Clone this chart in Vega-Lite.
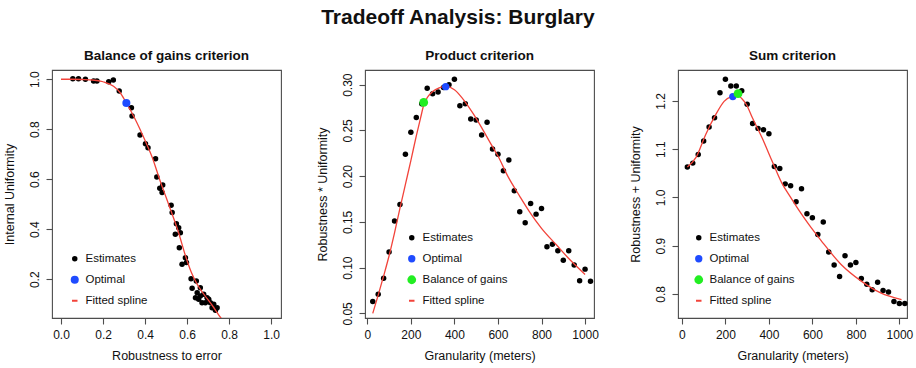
{
  "$schema": "https://vega.github.io/schema/vega-lite/v6.json",
  "padding": {"left": 2, "top": 6, "right": 5, "bottom": 5},
  "title": {"text": "Tradeoff Analysis: Burglary", "fontSize": 21, "fontWeight": "bold", "anchor": "middle", "frame": "bounds", "offset": 20, "color": "#111111"},
  "bounds": "flush",
  "spacing": 84,
  "resolve": {
    "scale": {"color": "independent", "shape": "independent", "size": "independent"},
    "legend": {"color": "independent", "shape": "independent", "size": "independent"}
  },
  "config": {
    "font": "Liberation Sans",
    "view": {"stroke": "#4d4d4d", "strokeWidth": 1.1},
    "axis": {"domain": false, "grid": false, "ticks": true, "tickSize": 6, "tickColor": "#4d4d4d", "tickWidth": 1.1, "labelFontSize": 12, "labelColor": "#111111", "titleFontSize": 12.5, "titleFontWeight": "normal", "titleColor": "#111111"},
    "axisX": {"labelPadding": 5, "titlePadding": 9},
    "axisY": {"labelAngle": 270, "labelAlign": "center", "labelBaseline": "bottom", "labelPadding": 5, "titlePadding": 12},
    "legend": {"orient": "bottom-left", "labelFontSize": 11.5, "labelColor": "#111111", "rowPadding": 8, "symbolStrokeWidth": 0, "padding": 0},
    "title": {"fontSize": 13.5, "fontWeight": "bold", "color": "#111111", "offset": 8},
    "point": {"filled": true, "opacity": 1}
  },
  "hconcat": [
    {
      "width": 229,
      "height": 248,
      "title": "Balance of gains criterion",
      "layer": [
        {
          "data": {"values": [
            {"x": 0.056, "y": 1.002, "series": "Estimates"}, {"x": 0.083, "y": 1.002, "series": "Estimates"},
            {"x": 0.116, "y": 1.0, "series": "Estimates"}, {"x": 0.155, "y": 0.993, "series": "Estimates"},
            {"x": 0.171, "y": 0.993, "series": "Estimates"}, {"x": 0.227, "y": 0.99, "series": "Estimates"},
            {"x": 0.249, "y": 0.997, "series": "Estimates"}, {"x": 0.277, "y": 0.953, "series": "Estimates"},
            {"x": 0.335, "y": 0.886, "series": "Estimates"}, {"x": 0.338, "y": 0.853, "series": "Estimates"},
            {"x": 0.376, "y": 0.777, "series": "Estimates"}, {"x": 0.402, "y": 0.742, "series": "Estimates"},
            {"x": 0.414, "y": 0.726, "series": "Estimates"}, {"x": 0.45, "y": 0.682, "series": "Estimates"},
            {"x": 0.456, "y": 0.609, "series": "Estimates"}, {"x": 0.47, "y": 0.564, "series": "Estimates"},
            {"x": 0.484, "y": 0.577, "series": "Estimates"}, {"x": 0.481, "y": 0.547, "series": "Estimates"},
            {"x": 0.524, "y": 0.496, "series": "Estimates"}, {"x": 0.529, "y": 0.467, "series": "Estimates"},
            {"x": 0.549, "y": 0.422, "series": "Estimates"}, {"x": 0.56, "y": 0.406, "series": "Estimates"},
            {"x": 0.568, "y": 0.386, "series": "Estimates"}, {"x": 0.544, "y": 0.38, "series": "Estimates"},
            {"x": 0.563, "y": 0.326, "series": "Estimates"}, {"x": 0.592, "y": 0.286, "series": "Estimates"},
            {"x": 0.597, "y": 0.267, "series": "Estimates"}, {"x": 0.576, "y": 0.26, "series": "Estimates"},
            {"x": 0.619, "y": 0.202, "series": "Estimates"}, {"x": 0.644, "y": 0.193, "series": "Estimates"},
            {"x": 0.624, "y": 0.164, "series": "Estimates"}, {"x": 0.663, "y": 0.166, "series": "Estimates"},
            {"x": 0.648, "y": 0.146, "series": "Estimates"}, {"x": 0.663, "y": 0.133, "series": "Estimates"},
            {"x": 0.679, "y": 0.14, "series": "Estimates"}, {"x": 0.695, "y": 0.126, "series": "Estimates"},
            {"x": 0.703, "y": 0.12, "series": "Estimates"}, {"x": 0.687, "y": 0.106, "series": "Estimates"},
            {"x": 0.711, "y": 0.106, "series": "Estimates"}, {"x": 0.727, "y": 0.1, "series": "Estimates"},
            {"x": 0.743, "y": 0.086, "series": "Estimates"}, {"x": 0.671, "y": 0.106, "series": "Estimates"},
            {"x": 0.719, "y": 0.086, "series": "Estimates"}, {"x": 0.735, "y": 0.076, "series": "Estimates"},
            {"x": 0.655, "y": 0.12, "series": "Estimates"}, {"x": 0.64, "y": 0.126, "series": "Estimates"}
          ]},
          "mark": {"type": "point", "filled": true, "opacity": 1},
          "encoding": {
            "x": {"field": "x", "type": "quantitative", "title": "Robustness to error", "scale": {"domain": [-0.043, 1.047], "nice": false, "zero": false}, "axis": {"values": [0, 0.2, 0.4, 0.6, 0.8, 1.0], "format": ".1f"}},
            "y": {"field": "y", "type": "quantitative", "title": "Internal Uniformity", "scale": {"domain": [0.045, 1.037], "nice": false, "zero": false}, "axis": {"values": [0.2, 0.4, 0.6, 0.8, 1.0], "format": ".1f"}},
            "color": {"field": "series", "type": "nominal", "scale": {"domain": ["Estimates", "Optimal", "Fitted spline"], "range": ["#000000", "#1f4bff", "#f2433a"]}, "legend": {"title": null, "offset": 11, "symbolOffset": 6, "labelOffset": 5}},
            "shape": {"field": "series", "type": "nominal", "scale": {"domain": ["Estimates", "Optimal", "Fitted spline"], "range": ["circle", "circle", "M-0.55,-0.2H0.55V0.2H-0.55Z"]}, "legend": {"title": null, "offset": 11, "symbolOffset": 6, "labelOffset": 5}},
            "size": {"field": "series", "type": "nominal", "scale": {"domain": ["Estimates", "Optimal", "Fitted spline"], "range": [30, 100, 9]}, "legend": {"title": null, "offset": 11, "symbolOffset": 6, "labelOffset": 5}}
          }
        },
        {
          "data": {"values": [
            {"x": 0.0, "y": 1.0}, {"x": 0.05, "y": 1.0}, {"x": 0.1, "y": 0.999}, {"x": 0.15, "y": 0.997},
            {"x": 0.2, "y": 0.99}, {"x": 0.25, "y": 0.972}, {"x": 0.28, "y": 0.948}, {"x": 0.311, "y": 0.905},
            {"x": 0.35, "y": 0.845}, {"x": 0.4, "y": 0.755}, {"x": 0.433, "y": 0.69}, {"x": 0.473, "y": 0.59},
            {"x": 0.5, "y": 0.528}, {"x": 0.524, "y": 0.472}, {"x": 0.56, "y": 0.385}, {"x": 0.59, "y": 0.3},
            {"x": 0.62, "y": 0.228}, {"x": 0.648, "y": 0.18}, {"x": 0.68, "y": 0.14}, {"x": 0.72, "y": 0.095},
            {"x": 0.76, "y": 0.046}, {"x": 0.785, "y": 0.02}
          ]},
          "mark": {"type": "line", "color": "#f2433a", "strokeWidth": 1.3, "clip": true, "interpolate": "monotone"},
          "encoding": {
            "x": {"field": "x", "type": "quantitative"},
            "y": {"field": "y", "type": "quantitative"}
          }
        },
        {
          "data": {"values": [{"x": 0.311, "y": 0.905, "series": "Optimal"}]},
          "mark": {"type": "point", "filled": true, "opacity": 1},
          "encoding": {
            "x": {"field": "x", "type": "quantitative"},
            "y": {"field": "y", "type": "quantitative"},
            "color": {"field": "series", "type": "nominal"},
            "shape": {"field": "series", "type": "nominal"},
            "size": {"field": "series", "type": "nominal"}
          }
        }
      ]
    },
    {
      "width": 229,
      "height": 248,
      "title": "Product criterion",
      "layer": [
        {
          "data": {"values": [
            {"x": 25, "y": 0.063, "series": "Estimates"}, {"x": 50, "y": 0.071, "series": "Estimates"},
            {"x": 75, "y": 0.0885, "series": "Estimates"}, {"x": 100, "y": 0.117, "series": "Estimates"},
            {"x": 125, "y": 0.151, "series": "Estimates"}, {"x": 150, "y": 0.169, "series": "Estimates"},
            {"x": 175, "y": 0.224, "series": "Estimates"}, {"x": 200, "y": 0.248, "series": "Estimates"},
            {"x": 225, "y": 0.264, "series": "Estimates"}, {"x": 250, "y": 0.279, "series": "Estimates"},
            {"x": 275, "y": 0.296, "series": "Estimates"}, {"x": 300, "y": 0.29, "series": "Estimates"},
            {"x": 325, "y": 0.292, "series": "Estimates"}, {"x": 350, "y": 0.297, "series": "Estimates"},
            {"x": 375, "y": 0.3, "series": "Estimates"}, {"x": 400, "y": 0.306, "series": "Estimates"},
            {"x": 425, "y": 0.277, "series": "Estimates"}, {"x": 450, "y": 0.279, "series": "Estimates"},
            {"x": 475, "y": 0.2625, "series": "Estimates"}, {"x": 500, "y": 0.2614, "series": "Estimates"},
            {"x": 525, "y": 0.245, "series": "Estimates"}, {"x": 550, "y": 0.259, "series": "Estimates"},
            {"x": 575, "y": 0.2296, "series": "Estimates"}, {"x": 600, "y": 0.224, "series": "Estimates"},
            {"x": 625, "y": 0.206, "series": "Estimates"}, {"x": 650, "y": 0.2176, "series": "Estimates"},
            {"x": 675, "y": 0.184, "series": "Estimates"}, {"x": 700, "y": 0.161, "series": "Estimates"},
            {"x": 725, "y": 0.149, "series": "Estimates"}, {"x": 750, "y": 0.17, "series": "Estimates"},
            {"x": 775, "y": 0.1585, "series": "Estimates"}, {"x": 800, "y": 0.1647, "series": "Estimates"},
            {"x": 825, "y": 0.1228, "series": "Estimates"}, {"x": 850, "y": 0.1257, "series": "Estimates"},
            {"x": 875, "y": 0.1184, "series": "Estimates"}, {"x": 900, "y": 0.108, "series": "Estimates"},
            {"x": 925, "y": 0.1184, "series": "Estimates"}, {"x": 950, "y": 0.103, "series": "Estimates"},
            {"x": 975, "y": 0.0856, "series": "Estimates"}, {"x": 1000, "y": 0.0984, "series": "Estimates"},
            {"x": 1025, "y": 0.0852, "series": "Estimates"}
          ]},
          "mark": {"type": "point", "filled": true, "opacity": 1},
          "encoding": {
            "x": {"field": "x", "type": "quantitative", "title": "Granularity (meters)", "scale": {"domain": [-10.6, 1041], "nice": false, "zero": false}, "axis": {"values": [0, 200, 400, 600, 800, 1000], "format": "d"}},
            "y": {"field": "y", "type": "quantitative", "title": "Robustness * Uniformity", "scale": {"domain": [0.045, 0.316], "nice": false, "zero": false}, "axis": {"values": [0.05, 0.1, 0.15, 0.2, 0.25, 0.3], "format": ".2f"}},
            "color": {"field": "series", "type": "nominal", "scale": {"domain": ["Estimates", "Optimal", "Balance of gains", "Fitted spline"], "range": ["#000000", "#1f4bff", "#22ee22", "#f2433a"]}, "legend": {"title": null, "offset": 11, "symbolOffset": 30, "labelOffset": 5}},
            "shape": {"field": "series", "type": "nominal", "scale": {"domain": ["Estimates", "Optimal", "Balance of gains", "Fitted spline"], "range": ["circle", "circle", "circle", "M-0.55,-0.2H0.55V0.2H-0.55Z"]}, "legend": {"title": null, "offset": 11, "symbolOffset": 30, "labelOffset": 5}},
            "size": {"field": "series", "type": "nominal", "scale": {"domain": ["Estimates", "Optimal", "Balance of gains", "Fitted spline"], "range": [30, 100, 100, 9]}, "legend": {"title": null, "offset": 11, "symbolOffset": 30, "labelOffset": 5}}
          }
        },
        {
          "data": {"values": [
            {"x": 25, "y": 0.05}, {"x": 50, "y": 0.07}, {"x": 75, "y": 0.091}, {"x": 100, "y": 0.113},
            {"x": 125, "y": 0.138}, {"x": 150, "y": 0.165}, {"x": 175, "y": 0.191}, {"x": 200, "y": 0.217},
            {"x": 225, "y": 0.244}, {"x": 245, "y": 0.264}, {"x": 260, "y": 0.2785}, {"x": 280, "y": 0.2875},
            {"x": 300, "y": 0.2925}, {"x": 330, "y": 0.2965}, {"x": 360, "y": 0.298}, {"x": 400, "y": 0.2945},
            {"x": 450, "y": 0.281}, {"x": 487, "y": 0.268}, {"x": 525, "y": 0.253}, {"x": 568, "y": 0.235},
            {"x": 600, "y": 0.222}, {"x": 645, "y": 0.2}, {"x": 700, "y": 0.178}, {"x": 745, "y": 0.161},
            {"x": 800, "y": 0.143}, {"x": 868, "y": 0.125}, {"x": 925, "y": 0.11}, {"x": 1000, "y": 0.0926}
          ]},
          "mark": {"type": "line", "color": "#f2433a", "strokeWidth": 1.3, "clip": true, "interpolate": "monotone"},
          "encoding": {
            "x": {"field": "x", "type": "quantitative"},
            "y": {"field": "y", "type": "quantitative"}
          }
        },
        {
          "data": {"values": [
            {"x": 259, "y": 0.2806, "series": "Balance of gains"},
            {"x": 360, "y": 0.2978, "series": "Optimal"}
          ]},
          "mark": {"type": "point", "filled": true, "opacity": 1},
          "encoding": {
            "x": {"field": "x", "type": "quantitative"},
            "y": {"field": "y", "type": "quantitative"},
            "color": {"field": "series", "type": "nominal"},
            "shape": {"field": "series", "type": "nominal"},
            "size": {"field": "series", "type": "nominal"}
          }
        }
      ]
    },
    {
      "width": 229,
      "height": 248,
      "title": "Sum criterion",
      "layer": [
        {
          "data": {"values": [
            {"x": 25, "y": 1.063, "series": "Estimates"}, {"x": 50, "y": 1.071, "series": "Estimates"},
            {"x": 75, "y": 1.089, "series": "Estimates"}, {"x": 100, "y": 1.117, "series": "Estimates"},
            {"x": 125, "y": 1.146, "series": "Estimates"}, {"x": 150, "y": 1.165, "series": "Estimates"},
            {"x": 175, "y": 1.217, "series": "Estimates"}, {"x": 200, "y": 1.245, "series": "Estimates"},
            {"x": 225, "y": 1.231, "series": "Estimates"}, {"x": 250, "y": 1.231, "series": "Estimates"},
            {"x": 275, "y": 1.221, "series": "Estimates"}, {"x": 300, "y": 1.193, "series": "Estimates"},
            {"x": 325, "y": 1.153, "series": "Estimates"}, {"x": 350, "y": 1.143, "series": "Estimates"},
            {"x": 375, "y": 1.14, "series": "Estimates"}, {"x": 400, "y": 1.132, "series": "Estimates"},
            {"x": 425, "y": 1.064, "series": "Estimates"}, {"x": 450, "y": 1.06, "series": "Estimates"},
            {"x": 475, "y": 1.028, "series": "Estimates"}, {"x": 500, "y": 1.024, "series": "Estimates"},
            {"x": 525, "y": 0.991, "series": "Estimates"}, {"x": 550, "y": 1.018, "series": "Estimates"},
            {"x": 575, "y": 0.966, "series": "Estimates"}, {"x": 600, "y": 0.958, "series": "Estimates"},
            {"x": 625, "y": 0.923, "series": "Estimates"}, {"x": 650, "y": 0.949, "series": "Estimates"},
            {"x": 675, "y": 0.887, "series": "Estimates"}, {"x": 700, "y": 0.86, "series": "Estimates"},
            {"x": 725, "y": 0.836, "series": "Estimates"}, {"x": 750, "y": 0.879, "series": "Estimates"},
            {"x": 775, "y": 0.86, "series": "Estimates"}, {"x": 800, "y": 0.865, "series": "Estimates"},
            {"x": 825, "y": 0.832, "series": "Estimates"}, {"x": 850, "y": 0.82, "series": "Estimates"},
            {"x": 875, "y": 0.8085, "series": "Estimates"}, {"x": 900, "y": 0.824, "series": "Estimates"},
            {"x": 925, "y": 0.807, "series": "Estimates"}, {"x": 950, "y": 0.804, "series": "Estimates"},
            {"x": 975, "y": 0.784, "series": "Estimates"}, {"x": 1000, "y": 0.78, "series": "Estimates"},
            {"x": 1025, "y": 0.78, "series": "Estimates"}
          ]},
          "mark": {"type": "point", "filled": true, "opacity": 1},
          "encoding": {
            "x": {"field": "x", "type": "quantitative", "title": "Granularity (meters)", "scale": {"domain": [-18, 1035], "nice": false, "zero": false}, "axis": {"values": [0, 200, 400, 600, 800, 1000], "format": "d"}},
            "y": {"field": "y", "type": "quantitative", "title": "Robustness + Uniformity", "scale": {"domain": [0.75, 1.264], "nice": false, "zero": false}, "axis": {"values": [0.8, 0.9, 1.0, 1.1, 1.2], "format": ".1f"}},
            "color": {"field": "series", "type": "nominal", "scale": {"domain": ["Estimates", "Optimal", "Balance of gains", "Fitted spline"], "range": ["#000000", "#1f4bff", "#22ee22", "#f2433a"]}, "legend": {"title": null, "offset": 11, "symbolOffset": 4, "labelOffset": 5}},
            "shape": {"field": "series", "type": "nominal", "scale": {"domain": ["Estimates", "Optimal", "Balance of gains", "Fitted spline"], "range": ["circle", "circle", "circle", "M-0.55,-0.2H0.55V0.2H-0.55Z"]}, "legend": {"title": null, "offset": 11, "symbolOffset": 4, "labelOffset": 5}},
            "size": {"field": "series", "type": "nominal", "scale": {"domain": ["Estimates", "Optimal", "Balance of gains", "Fitted spline"], "range": [30, 100, 100, 9]}, "legend": {"title": null, "offset": 11, "symbolOffset": 4, "labelOffset": 5}}
          }
        },
        {
          "data": {"values": [
            {"x": 25, "y": 1.063}, {"x": 65, "y": 1.083}, {"x": 110, "y": 1.131}, {"x": 156, "y": 1.172},
            {"x": 194, "y": 1.199}, {"x": 232, "y": 1.21}, {"x": 254, "y": 1.212}, {"x": 275, "y": 1.205},
            {"x": 297, "y": 1.192}, {"x": 323, "y": 1.166}, {"x": 368, "y": 1.124}, {"x": 414, "y": 1.076},
            {"x": 459, "y": 1.03}, {"x": 500, "y": 1.0}, {"x": 540, "y": 0.972}, {"x": 580, "y": 0.946},
            {"x": 641, "y": 0.91}, {"x": 732, "y": 0.861}, {"x": 823, "y": 0.827}, {"x": 914, "y": 0.802},
            {"x": 1010, "y": 0.788}
          ]},
          "mark": {"type": "line", "color": "#f2433a", "strokeWidth": 1.3, "clip": true, "interpolate": "monotone"},
          "encoding": {
            "x": {"field": "x", "type": "quantitative"},
            "y": {"field": "y", "type": "quantitative"}
          }
        },
        {
          "data": {"values": [
            {"x": 234, "y": 1.209, "series": "Optimal"},
            {"x": 258, "y": 1.215, "series": "Balance of gains"}
          ]},
          "mark": {"type": "point", "filled": true, "opacity": 1},
          "encoding": {
            "x": {"field": "x", "type": "quantitative"},
            "y": {"field": "y", "type": "quantitative"},
            "color": {"field": "series", "type": "nominal"},
            "shape": {"field": "series", "type": "nominal"},
            "size": {"field": "series", "type": "nominal"}
          }
        }
      ]
    }
  ]
}
